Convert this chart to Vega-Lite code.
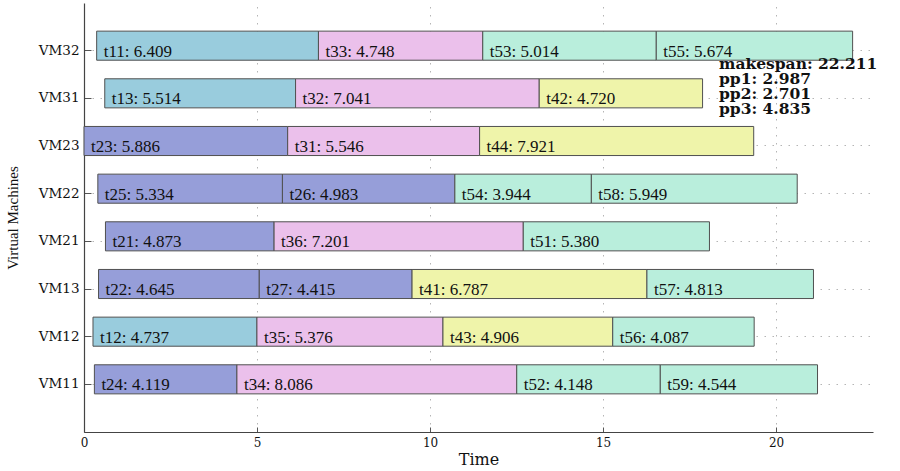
{
  "$schema": "https://vega.github.io/schema/vega-lite/v6.json",
  "autosize": "none",
  "width": 789,
  "height": 429,
  "padding": {"left": 84, "top": 3, "right": 27, "bottom": 39},
  "background": "white",
  "config": {
    "view": {"stroke": null},
    "font": "Liberation Serif",
    "axis": {"labelFont": "DejaVu Serif", "titleFont": "DejaVu Serif", "labelColor": "#111", "titleColor": "#111", "titleFontWeight": "normal"}
  },
  "datasets": {
    "tasks": [
      {"vm": "VM32", "group": "t1", "start": 0.366, "end": 6.775, "label": "t11: 6.409"},
      {"vm": "VM32", "group": "t3", "start": 6.775, "end": 11.523, "label": "t33: 4.748"},
      {"vm": "VM32", "group": "t5", "start": 11.523, "end": 16.537, "label": "t53: 5.014"},
      {"vm": "VM32", "group": "t5", "start": 16.537, "end": 22.211, "label": "t55: 5.674"},
      {"vm": "VM31", "group": "t1", "start": 0.6, "end": 6.114, "label": "t13: 5.514"},
      {"vm": "VM31", "group": "t3", "start": 6.114, "end": 13.155, "label": "t32: 7.041"},
      {"vm": "VM31", "group": "t4", "start": 13.155, "end": 17.875, "label": "t42: 4.720"},
      {"vm": "VM23", "group": "t2", "start": 0, "end": 5.886, "label": "t23: 5.886"},
      {"vm": "VM23", "group": "t3", "start": 5.886, "end": 11.432, "label": "t31: 5.546"},
      {"vm": "VM23", "group": "t4", "start": 11.432, "end": 19.353, "label": "t44: 7.921"},
      {"vm": "VM22", "group": "t2", "start": 0.4, "end": 5.734, "label": "t25: 5.334"},
      {"vm": "VM22", "group": "t2", "start": 5.734, "end": 10.717, "label": "t26: 4.983"},
      {"vm": "VM22", "group": "t5", "start": 10.717, "end": 14.661, "label": "t54: 3.944"},
      {"vm": "VM22", "group": "t5", "start": 14.661, "end": 20.61, "label": "t58: 5.949"},
      {"vm": "VM21", "group": "t2", "start": 0.62, "end": 5.493, "label": "t21: 4.873"},
      {"vm": "VM21", "group": "t3", "start": 5.493, "end": 12.694, "label": "t36: 7.201"},
      {"vm": "VM21", "group": "t5", "start": 12.694, "end": 18.074, "label": "t51: 5.380"},
      {"vm": "VM13", "group": "t2", "start": 0.42, "end": 5.065, "label": "t22: 4.645"},
      {"vm": "VM13", "group": "t2", "start": 5.065, "end": 9.48, "label": "t27: 4.415"},
      {"vm": "VM13", "group": "t4", "start": 9.48, "end": 16.267, "label": "t41: 6.787"},
      {"vm": "VM13", "group": "t5", "start": 16.267, "end": 21.08, "label": "t57: 4.813"},
      {"vm": "VM12", "group": "t1", "start": 0.26, "end": 4.997, "label": "t12: 4.737"},
      {"vm": "VM12", "group": "t3", "start": 4.997, "end": 10.373, "label": "t35: 5.376"},
      {"vm": "VM12", "group": "t4", "start": 10.373, "end": 15.279, "label": "t43: 4.906"},
      {"vm": "VM12", "group": "t5", "start": 15.279, "end": 19.366, "label": "t56: 4.087"},
      {"vm": "VM11", "group": "t2", "start": 0.3, "end": 4.419, "label": "t24: 4.119"},
      {"vm": "VM11", "group": "t3", "start": 4.419, "end": 12.505, "label": "t34: 8.086"},
      {"vm": "VM11", "group": "t5", "start": 12.505, "end": 16.653, "label": "t52: 4.148"},
      {"vm": "VM11", "group": "t5", "start": 16.653, "end": 21.197, "label": "t59: 4.544"}
    ],
    "notes": [
      {"vm": "VM31", "x": 18.35, "text": "makespan: 22.211\npp1: 2.987\npp2: 2.701\npp3: 4.835"}
    ]
  },
  "layer": [
    {
      "data": {"name": "tasks"},
      "mark": {"type": "bar", "stroke": "#505050", "strokeWidth": 1, "opacity": 1, "yOffset": -5},
      "encoding": {
        "y": {
          "field": "vm", "type": "nominal",
          "sort": ["VM32", "VM31", "VM23", "VM22", "VM21", "VM13", "VM12", "VM11"],
          "scale": {"paddingInner": 0.39, "paddingOuter": 0.695},
          "axis": {
            "title": "Virtual Machines", "titleFont": "Liberation Serif", "titleFontSize": 15, "titlePadding": 18,
            "labelFontSize": 13.5, "labelPadding": 12, "tickSize": -7, "tickColor": "#555",
            "domainColor": "#444", "domainWidth": 1.2, "bandPosition": 0.5,
            "grid": true, "gridColor": "#b5b5b5", "gridDash": [1.5, 6.5], "gridWidth": 1
          }
        },
        "x": {
          "field": "start", "type": "quantitative",
          "scale": {"domain": [0, 22.8], "nice": false, "zero": true},
          "axis": {
            "title": "Time", "titleFontSize": 16, "titlePadding": 3,
            "values": [0, 5, 10, 15, 20], "labelFontSize": 12, "labelPadding": 10, "labelFlush": false,
            "tickSize": -5, "tickColor": "#555", "domainColor": "#444", "domainWidth": 1.2,
            "grid": true, "gridColor": "#b5b5b5", "gridDash": [1.5, 6.5], "gridWidth": 1
          }
        },
        "x2": {"field": "end"},
        "color": {
          "field": "group", "type": "nominal", "legend": null,
          "scale": {"domain": ["t1", "t2", "t3", "t4", "t5"], "range": ["#99CCDD", "#969ED9", "#EBC0EB", "#EFF4AA", "#B9EEDC"]}
        }
      }
    },
    {
      "data": {"name": "tasks"},
      "mark": {"type": "text", "align": "left", "baseline": "middle", "dx": 7, "dy": 1, "fontSize": 17, "font": "Liberation Serif", "color": "#111"},
      "encoding": {
        "y": {"field": "vm", "type": "nominal", "sort": ["VM32", "VM31", "VM23", "VM22", "VM21", "VM13", "VM12", "VM11"]},
        "x": {"field": "start", "type": "quantitative"},
        "text": {"field": "label"}
      }
    },
    {
      "data": {"name": "notes"},
      "mark": {"type": "text", "align": "left", "baseline": "middle", "dy": -34, "fontSize": 15.5, "fontWeight": "bold", "lineHeight": 15, "lineBreak": "\n", "font": "DejaVu Serif", "color": "#111"},
      "encoding": {
        "y": {"field": "vm", "type": "nominal", "sort": ["VM32", "VM31", "VM23", "VM22", "VM21", "VM13", "VM12", "VM11"]},
        "x": {"field": "x", "type": "quantitative"},
        "text": {"field": "text"}
      }
    }
  ]
}
